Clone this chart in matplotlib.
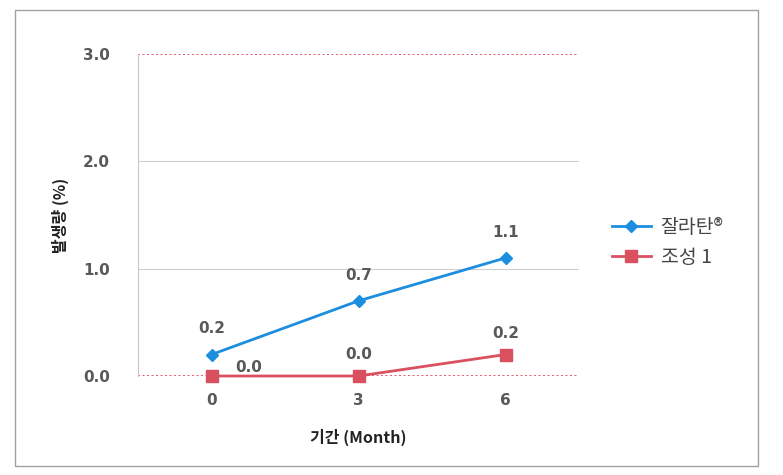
import matplotlib.pyplot as plt
from matplotlib.patches import Rectangle

plt.rcParams['font.family'] = ['Noto Sans CJK KR', 'DejaVu Sans']

months = ['0', '3', '6']
zalatan = [0.2, 0.7, 1.1]
comp1 = [0.0, 0.0, 0.2]
limits = [0.0, 3.0]
yticks = [0.0, 1.0, 2.0, 3.0]
series_names = ['잘라탄®', '조성 1']

blue = '#1c8ee0'
red = '#d9505f'
dot_red = '#e8405a'
txt = '#595959'
num_font = ['DejaVu Sans']

fig = plt.figure(figsize=(7.83, 4.75), dpi=100)
fig.patches.append(Rectangle((15 / 783, 1 - 466 / 475), 743 / 783, 456 / 475,
                             transform=fig.transFigure, fill=False,
                             edgecolor='#a0a0a0', linewidth=1.0))

ax = fig.add_axes([138 / 783, 1 - 376 / 475, 441 / 783, 322 / 475])
x = range(len(months))

for v in yticks[1:3]:
    ax.axhline(v, color='#cfcfcf', linewidth=0.8, zorder=0)
for v in limits:
    ax.axhline(v, color=dot_red, linewidth=1.2, linestyle=(0, (1.2, 1.5)), zorder=1)

ax.plot(x, zalatan, color=blue, marker='D', markersize=6, linewidth=2,
        label=series_names[0], zorder=3, clip_on=False)
ax.plot(x, comp1, color=red, marker='s', markersize=9, linewidth=2,
        label=series_names[1], zorder=3, clip_on=False)

for i, v in enumerate(zalatan):
    ax.annotate(f'{v:.1f}', (i, v), xytext=(0, 13), textcoords='offset points',
                ha='center', va='bottom', fontsize=11, color=txt, fontweight='bold',
                family=num_font)
offsets = [(27, 1), (0, 10), (0, 10)]
for i, v in enumerate(comp1):
    dx, dy = offsets[i]
    ax.annotate(f'{v:.1f}', (i, v), xytext=(dx, dy), textcoords='offset points',
                ha='center', va='bottom', fontsize=11, color=txt, fontweight='bold',
                family=num_font)

ax.set_xlim(-0.5, len(months) - 0.5)
ax.set_ylim(0, 3.0)
ax.set_xticks(list(x))
ax.set_xticklabels(months)
ax.set_yticks(yticks)
ax.set_yticklabels([f'{v:.1f}' for v in yticks])
ax.tick_params(axis='both', length=0, labelsize=11, colors=txt)
ax.tick_params(axis='y', pad=20)
ax.tick_params(axis='x', pad=12)
for lab in ax.get_xticklabels() + ax.get_yticklabels():
    lab.set_fontweight('bold')
    lab.set_family(num_font)

for s in ['top', 'right', 'bottom']:
    ax.spines[s].set_visible(False)
ax.spines['left'].set_color('#c8c8c8')
ax.spines['left'].set_linewidth(0.8)

ax.set_xlabel('기간 (Month)', fontsize=11.5, fontweight='bold', color='#222222', labelpad=15)
ax.set_ylabel('발생량 (%)', fontsize=11.5, fontweight='bold', color='#222222', labelpad=10)

leg = ax.legend(loc='center left', bbox_to_anchor=(1.035, 0.415), frameon=False,
                fontsize=14, handlelength=2.0, handletextpad=0.5, labelspacing=0.45,
                labelcolor='#444444')

fig.savefig('out.png', dpi=100)
